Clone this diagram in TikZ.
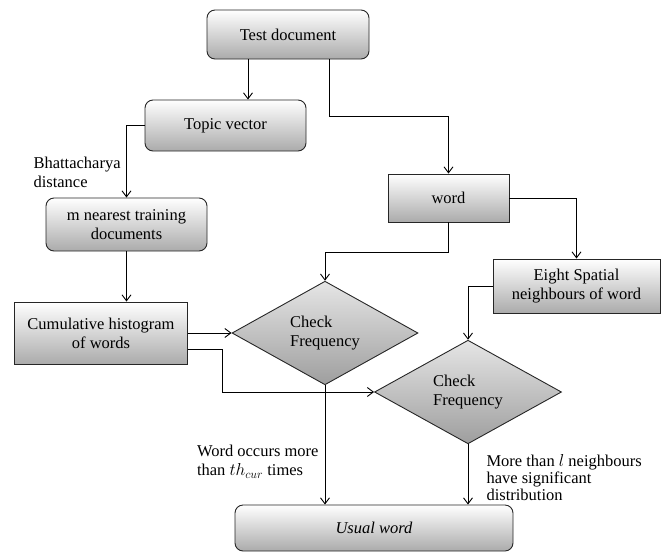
\documentclass[tikz,border=0pt]{standalone}
\usepackage{fontspec}
\setmainfont{Liberation Serif}
\newfontfamily\tnr{Liberation Serif}
\usetikzlibrary{shapes.geometric,arrows.meta,calc}
\begin{document}
\begin{tikzpicture}[x=1pt,y=-1pt,
  every node/.style={font=\tnr\fontsize{16.5}{19}\selectfont},
  base/.style={draw=black!85,line width=0.9pt,inner sep=2pt,align=center,
    top color=white,bottom color=black!33},
  rbox/.style={base,rounded corners=8pt},
  sbox/.style={base},
  dia/.style={diamond,draw=black!85,line width=0.9pt,inner sep=0pt,align=left,
    top color=black!10,bottom color=black!38},
  arr/.style={line width=0.9pt,-{Straight Barb[length=6pt,width=9pt]}},
  lbl/.style={font=\tnr\fontsize{16.5}{19}\selectfont}]
\useasboundingbox (0,0) rectangle (661,552);
\node[rbox,minimum width=162pt,minimum height=49pt] (test) at (288,34.5) {Test document};
\node[rbox,minimum width=161pt,minimum height=51pt] (topic) at (225.5,125.5) {Topic vector};
\node[rbox,minimum width=161pt,minimum height=53pt] (mnear) at (126.5,224.5) {m nearest training\\documents};
\node[sbox,minimum width=173pt,minimum height=62pt] (cum) at (101,333) {Cumulative histogram\\of words};
\node[sbox,minimum width=121pt,minimum height=48pt] (word) at (448.5,198) {word};
\node[sbox,minimum width=167pt,minimum height=54pt] (eight) at (576.5,286) {Eight Spatial\\neighbours of word};
\node[dia,minimum width=186pt,minimum height=100pt] (d1) at (325,333) {Check\\Frequency};
\node[dia,minimum width=187pt,minimum height=99pt] (d2) at (468,392) {Check\\Frequency};
\node[rbox,minimum width=278pt,minimum height=46pt] (usual) at (374,528) {\textit{Usual word}};
% labels
\node[lbl,anchor=west,align=left] (lb1) at (30,172) {Bhattacharya\\distance};
\node[lbl,anchor=east,align=left] (lb2) at (322,462) {Word occurs more\\than $th_{cur}$ times};
\node[lbl,anchor=west,align=left,font=\tnr\fontsize{16.5}{17}\selectfont] (lb3) at (483,478) {More than $l$ neighbours\\have significant\\distribution};
% helper coordinates
\coordinate (x248) at (248,0);
\coordinate (x329) at (329,116);
\coordinate (y252) at (0,252);
\coordinate (c349) at (222,349);
% connectors
\draw[arr] (x248 |- test.south) -- (x248 |- topic.north);
\draw[arr] (x329 |- test.south) -- (x329) -| (word.north);
\draw[arr] (topic.west) -| (mnear.north);
\draw[arr] (mnear.south) -- (mnear.south |- cum.north);
\draw[arr] (cum.east) -- (d1.west);
\draw[arr] (cum.east |- c349) -- (c349) |- (d2.west);
\draw[arr] (word.south) -- (word.south |- y252) -| (d1.north);
\draw[arr] (word.east) -| (eight.north);
\draw[arr] (eight.west) -| (d2.north);
\draw[arr] (d1.south) -- (d1.south |- usual.north);
\draw[arr] (d2.south) -- (d2.south |- usual.north);
\end{tikzpicture}
\end{document}
